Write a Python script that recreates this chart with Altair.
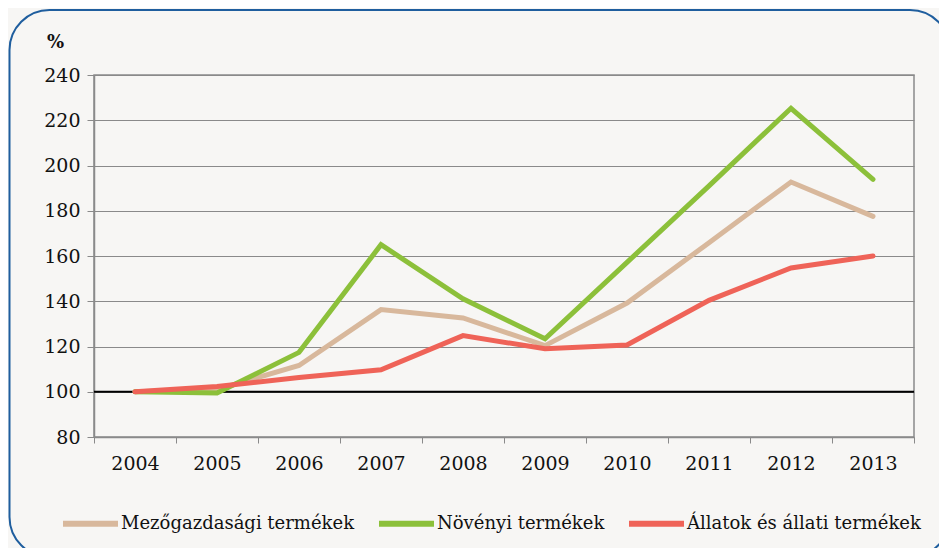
import altair as alt
import pandas as pd

years = ["2004", "2005", "2006", "2007", "2008", "2009", "2010", "2011", "2012", "2013"]
series_names = ["Mezőgazdasági termékek", "Növényi termékek", "Állatok és állati termékek"]
mezogazdasagi = [100, 101, 111.6, 136.3, 132.6, 120.4, 139.2, 165.9, 192.7, 177.5]
novenyi = [100, 99.4, 117.4, 165.0, 141.1, 123.4, 157.2, 191.0, 225.3, 193.9]
allatok = [100, 102.3, 106.3, 109.7, 124.8, 119.0, 120.7, 140.4, 154.7, 160.0]
colors = ["#D8B89C", "#8CC03A", "#EF6358"]
y_ticks = [80, 100, 120, 140, 160, 180, 200, 220, 240]
baseline = 100

rows = []
for name, vals in zip(series_names, [mezogazdasagi, novenyi, allatok]):
    for yr, v in zip(years, vals):
        rows.append({"Év": yr, "Érték": v, "Sorozat": name})
df = pd.DataFrame(rows)

FONT = "DejaVu Serif"
GRAY = "#8a8a8a"

x_enc = alt.X(
    "Év:O",
    bandPosition=0.5,
    scale=alt.Scale(type="band", paddingInner=0, paddingOuter=0, domain=years),
    axis=alt.Axis(
        title=None, labelAngle=0, tickBand="extent", tickSize=6, tickColor=GRAY,
        domainColor=GRAY, domainWidth=1.5, labelFont=FONT, labelFontSize=19,
        labelColor="#111111", labelPadding=11, grid=False,
    ),
)
y_enc = alt.Y(
    "Érték:Q",
    scale=alt.Scale(domain=[80, 240], nice=False, zero=False),
    axis=alt.Axis(
        values=y_ticks, title="%", titleAngle=0, titleX=-39, titleY=-33,
        titleAlign="center", titleBaseline="middle", titleFont=FONT,
        titleFontSize=18, titleFontWeight="bold", titleColor="#111111",
        tickSize=7, tickColor=GRAY, domainColor=GRAY, domainWidth=1.5,
        labelFont=FONT, labelFontSize=19, labelColor="#111111", labelPadding=7,
        grid=True, gridColor=GRAY, gridWidth=1,
    ),
)

frame = alt.Chart(pd.DataFrame({"a": [0]})).mark_rect(
    fillOpacity=0, stroke="#1F5E9E", strokeWidth=2, cornerRadius=40
).encode(
    x=alt.value(-84.5), x2=alt.value(856), y=alt.value(-65), y2=alt.value(482)
)

ref = alt.Chart(pd.DataFrame({"v": [baseline]})).mark_rule(
    color="#000000", strokeWidth=2
).encode(y=alt.Y("v:Q", scale=alt.Scale(domain=[80, 240], nice=False, zero=False)))

lines = alt.Chart(df).mark_line(strokeWidth=5, strokeCap="round", strokeJoin="miter").encode(
    x=x_enc,
    y=y_enc,
    color=alt.Color(
        "Sorozat:N",
        scale=alt.Scale(domain=series_names, range=colors),
        legend=alt.Legend(
            title=None, orient="none", legendX=-34, legendY=418, direction="horizontal",
            symbolType="stroke", symbolSize=3025, symbolStrokeWidth=6,
            labelFont=FONT, labelFontSize=18, labelColor="#111111", labelOffset=0,
            labelLimit=400, columnPadding=12, padding=0,
        ),
    ),
)

chart = alt.layer(frame, ref, lines).properties(
    width=820, height=362,
    autosize=alt.AutoSizeParams(type="none"),
    padding={"left": 86, "top": 67, "right": 25, "bottom": 111},
    background="#F7F6F4",
).configure_view(stroke=GRAY, strokeWidth=1.5)

chart.save("out.html", embed_options={"renderer": "svg", "actions": False})
